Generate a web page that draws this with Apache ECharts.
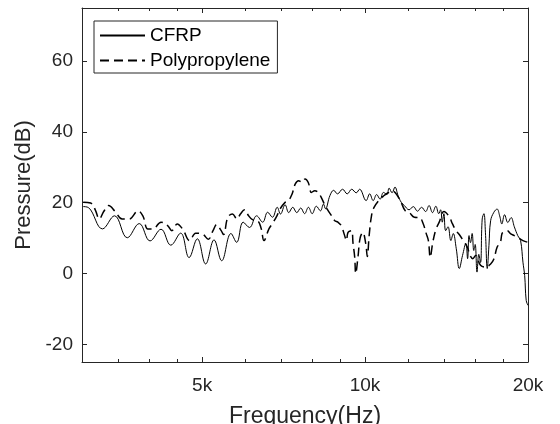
<!DOCTYPE html>
<html>
<head>
<meta charset="utf-8">
<script src="https://cdn.jsdelivr.net/npm/echarts@6.0.0/dist/echarts.min.js"></script>
<style>html,body{margin:0;padding:0;background:#fff}#c{width:560px;height:424px}</style>
</head>
<body>
<div id="c"></div>
<script>
const cfrpFreq = [3016,3085,3273,3445,3637,3827,4007,4199,4377,4564,4731,4900,5076,5261,5434,5654,5792,5954,6117,6305,6470,6608,6745,6883,6979,7117,7228,7354,7480,7607,7733,7860,7986,8129,8272,8379,8451,8612,8751,8894,9088,9269,9450,9631,9772,10046,10199,10352,10505,10662,10815,10972,11079,11218,11357,11509,11667,11820,12060,12280,12500,12719,12939,13131,13323,13515,13682,13790,13890,13984,14089,14234,14405,14551,14741,14930,15139,15355,15468,15563,15658,15772,15880,15975,16100,16222,16344,16459,16581,16688,16817,16939,17061,17298,17535,17728,17893,18102,18357,18612,18868,19149,19379,19574,19719,19847,20000];
const cfrpDb = [18.9,18.6,12.6,16.3,10.1,14.1,9.2,12.5,8.0,11.4,4.5,9.8,2.7,9.5,3.6,11.3,8.8,14.5,13.0,16.3,14.5,17.3,15.9,18.7,16.8,19.4,17.2,18.7,17.2,18.5,16.9,18.7,16.9,19.0,17.7,19.6,18.3,22.0,23.5,22.5,23.8,22.5,23.8,22.8,23.8,20.6,22.5,20.6,22.3,21.0,22.9,22.3,24.1,22.8,24.4,22.0,20.1,19.2,18.0,18.9,17.6,18.7,17.5,19.2,17.2,19.0,16.9,18.0,14.5,16.9,12.1,13.2,9.3,11.3,7.0,1.4,5.1,8.5,4.2,10.7,8.7,11.3,6.5,8.2,0.4,5.4,3.1,15.4,16.9,11.5,1.4,7.9,14.9,17.3,18.2,16.3,14.0,16.6,14.4,15.8,13.2,10.7,9.3,3.2,-0.6,-7.6,-9.0];
const ppFreq = [3016,3112,3174,3229,3290,3359,3455,3558,3669,3807,3886,3970,4055,4199,4319,4396,4498,4604,4745,4865,5000,5134,5238,5319,5423,5480,5575,5688,5800,5885,5991,6094,6195,6333,6429,6506,6644,6737,6874,6964,7117,7221,7329,7433,7537,7645,7749,7854,7962,8075,8193,8326,8433,8552,8673,8792,8910,9036,9169,9237,9302,9438,9502,9571,9611,9703,9792,9904,10028,10097,10176,10278,10384,10583,10801,11032,11264,11495,11680,11866,12060,12335,12609,12801,12977,13092,13197,13339,13526,13709,13984,14297,14506,14721,14930,15184,15456,15627,15816,16007,16344,16702,17061,17298,17535,17778,17907,18017,18298,18587,18868,19149,19574,20000];
const ppDb = [20.1,19.9,18.0,15.4,17.5,19.2,17.5,15.4,15.4,17.7,16.3,12.6,12.6,14.5,13.5,12.1,14.0,12.5,9.3,11.4,11.2,9.7,12.1,13.8,12.1,11.0,15.8,16.8,15.4,16.8,18.0,16.3,15.2,14.9,12.7,9.3,12.6,14.0,16.3,18.2,20.1,20.6,22.4,25.3,26.2,25.8,26.7,25.7,22.9,23.4,22.9,21.1,19.2,17.7,16.3,14.9,14.5,13.5,10.7,9.3,11.6,12.1,8.5,4.5,0.0,4.6,10.0,11.6,8.5,4.8,10.7,16.3,18.6,20.5,21.8,22.8,23.2,21.8,19.8,17.7,17.3,15.9,15.8,14.1,11.2,9.3,4.6,8.8,12.6,14.5,17.5,16.1,14.0,12.1,11.0,9.3,7.4,5.1,4.2,5.1,2.3,1.8,2.7,4.1,7.4,8.8,11.3,11.6,12.1,11.2,10.7,10.2,9.3,8.8];
const xLabelValues = [5000, 10000, 20000];
const xMajorTicks = [5000, 10000, 20000];
const xMinorTicks = [3500, 4000, 4500, 6000, 7000, 8000, 9000, 12000, 14000, 16000, 18000];
const yTickValues = [-20, 0, 20, 40, 60];
const seriesNames = ['CFRP', 'Polypropylene'];

const FONT = "'Liberation Sans', Arial, Helvetica, sans-serif";
const INK = '#262626';
const chart = echarts.init(document.getElementById('c'), null, {renderer: 'canvas'});

function xAx(pos, ticks, len, showLine, showLabel) {
  const a = {
    type: 'log', logBase: 10, min: 3000, max: 20000, position: pos,
    axisLine: {show: showLine, onZero: false, lineStyle: {color: INK, width: 1}},
    axisTick: {show: true, inside: true, length: len, customValues: ticks, lineStyle: {color: INK, width: 1}},
    axisLabel: {show: showLabel, customValues: xLabelValues, formatter: v => (Math.round(v / 1000)) + 'k',
      margin: 14, fontSize: 19, color: INK, fontFamily: FONT},
    splitLine: {show: false}, minorTick: {show: false}, minorSplitLine: {show: false}
  };
  if (showLabel) {
    a.name = 'Frequency(Hz)'; a.nameLocation = 'middle'; a.nameGap = 43;
    a.nameTextStyle = {fontSize: 23, color: INK, fontFamily: FONT};
  }
  return a;
}
function yAx(pos, showLabel) {
  const a = {
    type: 'value', min: -25, max: 75, position: pos,
    axisLine: {show: true, onZero: false, lineStyle: {color: INK, width: 1}},
    axisTick: {show: true, inside: true, length: 5, customValues: yTickValues, lineStyle: {color: INK, width: 1}},
    axisLabel: {show: showLabel, customValues: yTickValues, margin: 9, fontSize: 19, color: INK, fontFamily: FONT},
    splitLine: {show: false}
  };
  if (showLabel) {
    a.name = 'Pressure(dB)'; a.nameLocation = 'middle'; a.nameGap = 47; a.nameRotate = 90;
    a.nameTextStyle = {fontSize: 22, color: INK, fontFamily: FONT};
  }
  return a;
}

chart.setOption({
  animation: false,
  backgroundColor: '#fff',
  grid: {left: 82, right: 32, top: 8, bottom: 62, containLabel: false, outerBoundsMode: 'none'},
  xAxis: [
    xAx('bottom', xMajorTicks, 5, true, true),
    xAx('bottom', xMinorTicks, 3, false, false),
    xAx('top', xMajorTicks, 5, true, false),
    xAx('top', xMinorTicks, 3, false, false)
  ],
  yAxis: [yAx('left', true), yAx('right', false)],
  legend: {
    data: seriesNames, orient: 'vertical', left: 94, top: 21,
    itemWidth: 45, itemHeight: 14, itemGap: 6, padding: [5, 7, 3, 5],
    borderColor: INK, borderWidth: 1, backgroundColor: '#fff',
    itemStyle: {opacity: 0},
    textStyle: {fontSize: 19, color: '#000', fontFamily: FONT}
  },
  series: [
    {name: seriesNames[0], type: 'line', xAxisIndex: 0, yAxisIndex: 0, symbol: 'none', showSymbol: false,
     smooth: 0.4, data: cfrpFreq.map((f, i) => [f, cfrpDb[i]]),
     lineStyle: {color: '#000', width: 1}, itemStyle: {color: '#000'}},
    {name: seriesNames[1], type: 'line', xAxisIndex: 0, yAxisIndex: 0, symbol: 'none', showSymbol: false,
     smooth: 0.4, data: ppFreq.map((f, i) => [f, ppDb[i]]),
     lineStyle: {color: '#000', width: 1.5, type: [9, 5]}, itemStyle: {color: '#000'}}
  ]
});
</script>
</body>
</html>
